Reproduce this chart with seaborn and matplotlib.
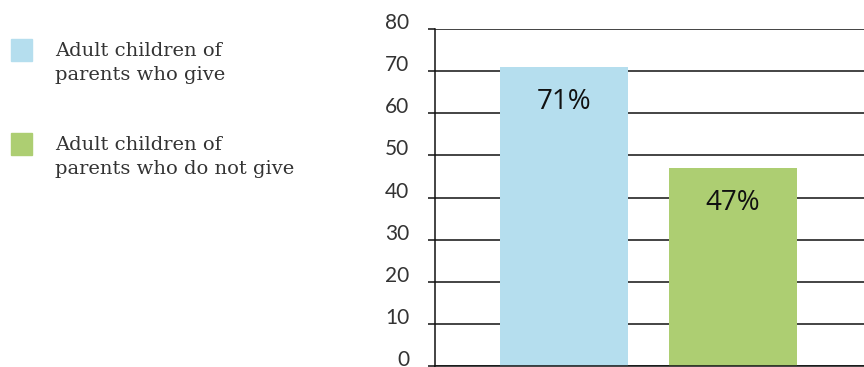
import matplotlib
matplotlib.use("Agg")
import matplotlib.pyplot as plt
from matplotlib.patches import Rectangle
import seaborn as sns
import pandas as pd

groups = ["Adult children of\nparents who give", "Adult children of\nparents who do not give"]
values = [71, 47]
colors = ["#B5DEEE", "#ADCE72"]
yticks = [0, 10, 20, 30, 40, 50, 60, 70, 80]

sns.set_theme(style="white")
plt.rcParams["font.family"] = ["Lato", "DejaVu Sans"]

W, H = 864, 367
fig = plt.figure(figsize=(W / 100, H / 100), dpi=100)
ax = fig.add_axes([435 / W, 1 / H, 1 - 435 / W, 337 / H])

df = pd.DataFrame({"group": groups, "value": values})
sns.barplot(data=df, x="group", y="value", hue="group", palette=colors,
            width=0.76, saturation=1, legend=False, linewidth=0, ax=ax)

ax.set_xlim(-0.766, 1.78)
ax.set_ylim(0, 80)
ax.set_yticks(yticks)
ax.set_yticklabels([str(t) for t in yticks])
ax.set_xticks([])
ax.set_xlabel("")
ax.set_ylabel("")

# horizontal rules behind the bars
ax.set_axisbelow(True)
ax.yaxis.grid(True, color="#111111", linewidth=1.1)
ax.xaxis.grid(False)

for side in ["top", "right"]:
    ax.spines[side].set_visible(False)
ax.spines["left"].set_color("#111111")
ax.spines["left"].set_linewidth(1.1)
ax.spines["bottom"].set_color("#111111")
ax.spines["bottom"].set_linewidth(1.1)

ax.tick_params(axis="y", which="major", left=True, length=5, width=1.1,
               color="#111111", pad=13.5, labelsize=15, labelcolor="#333333")
# tick numbers sit on their rule
for lbl in ax.get_yticklabels():
    lbl.set_verticalalignment("baseline")

# value labels inside the bars
for i, v in enumerate(values):
    ax.annotate(f"{v}%", xy=(i, v), xytext=(0, -25.5), textcoords="offset points",
                ha="center", va="center", fontsize=20, color="#111111",
                family=["Open Sans", "DejaVu Sans"])

# legend on the left
for i, (label, color) in enumerate(zip(groups, colors)):
    top = 39 + i * 94
    fig.patches.append(Rectangle((11 / W, 1 - (top + 22) / H), 21 / W, 22 / H,
                                 transform=fig.transFigure, color=color))
    fig.text(55 / W, 1 - (top + 3) / H, label, ha="left", va="top",
             fontsize=14, color="#333333", linespacing=1.45,
             family=["DejaVu Serif"])

fig.savefig("out.png", dpi=100)
